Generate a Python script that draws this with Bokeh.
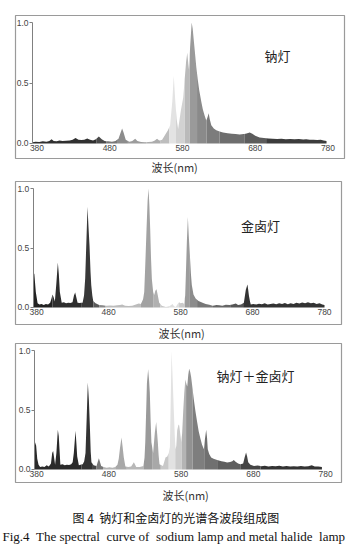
import numpy as np
from bokeh.plotting import figure
from bokeh.models import Range1d, FixedTicker, PrintfTickFormatter, Label, Title
from bokeh.layouts import column
from bokeh.embed import file_html
from bokeh.resources import INLINE

# ---------------- data ----------------
# Panel 1: sodium lamp
na_wl = [374, 378, 383, 388, 393, 397, 400, 403, 407, 411, 415, 420, 425, 429, 433, 437,
         441, 445, 449, 453, 457, 461, 465, 469, 473, 478, 483, 488, 492, 495, 497, 499,
         502, 507, 511, 515, 518, 523, 528, 533, 538, 542, 545, 548, 552, 556, 560, 563,
         566, 568, 570, 572, 574, 576, 578, 581, 583, 585, 586.6, 588, 589, 590.5, 592.6,
         594, 596.7, 599, 601, 603, 606, 608, 610.5, 612.7, 614.5, 616, 617.5, 619.6, 623,
         626.5, 631, 635.7, 642, 648, 653, 658.6, 664, 668, 672.4, 676, 680, 686, 692, 698,
         704, 710, 716, 722, 728, 734, 740, 746, 750, 755, 760, 765, 770, 774, 778]
na_val = [0.01, 0.015, 0.012, 0.018, 0.015, 0.02, 0.036, 0.02, 0.018, 0.025, 0.02, 0.022,
          0.025, 0.03, 0.045, 0.03, 0.028, 0.032, 0.042, 0.03, 0.025, 0.035, 0.058, 0.035,
          0.02, 0.018, 0.015, 0.02, 0.04, 0.09, 0.124, 0.09, 0.03, 0.015, 0.02, 0.04, 0.02,
          0.012, 0.01, 0.012, 0.015, 0.025, 0.04, 0.025, 0.03, 0.07, 0.11, 0.15, 0.35, 0.56,
          0.36, 0.2, 0.12, 0.2, 0.28, 0.38, 0.53, 0.68, 0.75, 0.66, 0.61, 0.8, 1.0, 0.95,
          0.78, 0.63, 0.53, 0.44, 0.34, 0.28, 0.23, 0.19, 0.22, 0.25, 0.2, 0.15, 0.125, 0.11,
          0.1, 0.09, 0.085, 0.08, 0.078, 0.075, 0.078, 0.082, 0.09, 0.08, 0.065, 0.05, 0.045,
          0.042, 0.04, 0.038, 0.04, 0.036, 0.038, 0.035, 0.037, 0.033, 0.035, 0.03, 0.032,
          0.028, 0.03, 0.025, 0.02]
na_edges = [374, 462, 475, 490, 505, 530, 550, 562, 571, 583, 590, 600, 613, 631, 665, 695, 778]
na_grays = ["#303030", "#4a4a4a", "#777777", "#8c8c8c", "#9c9c9c", "#acacac", "#bdbdbd",
            "#e3e3e3", "#d2d2d2", "#bababa", "#9a9a9a", "#8a8a8a", "#7c7c7c", "#6e6e6e",
            "#5c5c5c", "#3c3c3c"]

# Panel 2: metal halide lamp
mh_wl = [375.5, 377, 379, 381.5, 384, 387, 390, 393, 396, 399, 401, 402, 403.5, 405.5,
         407.5, 409.6, 411, 412.4, 415, 418, 421, 424, 427, 430, 432, 433.7, 435.5, 437,
         440, 444, 446, 447.6, 449.5, 450.8, 452, 453.6, 455, 456, 457.5, 458.8, 462, 467,
         472, 477, 482, 487, 492, 496, 499, 503, 508, 513, 518, 522, 525, 528, 529.6, 531,
         532.8, 534.3, 535.6, 536.8, 537.9, 539, 540.2, 542, 543.5, 545, 546.7, 548.5,
         550.4, 554, 559.6, 564, 567, 568.9, 571, 573.5, 576, 578, 580, 583, 585, 586.5,
         587.4, 588.8, 590.2, 591.5, 593, 594.5, 595.7, 598, 601, 605, 610.6, 615, 620,
         624.6, 630, 634, 638, 643, 648, 652, 656.8, 660, 664, 668, 669.5, 670.7, 673, 674,
         675, 676.5, 677.6, 681, 685, 689, 693, 697, 701, 705, 709, 713, 717, 721, 725,
         729, 733, 737, 741, 745, 749, 753, 757, 761, 765, 769, 773, 777, 780]
mh_val = [0.30, 0.28, 0.13, 0.035, 0.025, 0.03, 0.02, 0.03, 0.025, 0.04, 0.08, 0.11, 0.09,
          0.05, 0.2, 0.378, 0.28, 0.13, 0.04, 0.045, 0.035, 0.04, 0.038, 0.045, 0.1, 0.126,
          0.08, 0.04, 0.038, 0.04, 0.1, 0.245, 0.6, 0.846, 0.7, 0.52, 0.3, 0.19, 0.1, 0.053,
          0.035, 0.02, 0.018, 0.015, 0.017, 0.015, 0.018, 0.02, 0.025, 0.015, 0.012, 0.015,
          0.025, 0.034, 0.03, 0.07, 0.13, 0.35, 0.66, 0.9, 1.0, 0.85, 0.66, 0.42, 0.24, 0.13,
          0.104, 0.14, 0.154, 0.1, 0.04, 0.015, 0.005, 0.008, 0.02, 0.03, 0.01, 0.005, 0.03,
          0.045, 0.035, 0.04, 0.03, 0.1, 0.27, 0.55, 0.76, 0.6, 0.44, 0.28, 0.19, 0.11, 0.075,
          0.055, 0.04, 0.03, 0.022, 0.015, 0.02, 0.018, 0.015, 0.022, 0.02, 0.025, 0.034,
          0.02, 0.025, 0.04, 0.1, 0.15, 0.193, 0.15, 0.1, 0.05, 0.025, 0.03, 0.025, 0.032,
          0.028, 0.035, 0.025, 0.03, 0.033, 0.028, 0.035, 0.03, 0.038, 0.028, 0.035, 0.03,
          0.04, 0.033, 0.042, 0.035, 0.045, 0.036, 0.04, 0.03, 0.035, 0.025, 0.02]
mh_edges = [375.5, 402, 442, 459, 467, 476, 525, 542, 552, 564, 578, 586, 593, 603, 625,
            650, 667, 780]
mh_grays = ["#222222", "#2e2e2e", "#383838", "#5a5a5a", "#888888", "#bcbcbc", "#a2a2a2",
            "#b0b0b0", "#c8c8c8", "#dedede", "#cacaca", "#9c9c9c", "#8c8c8c", "#777777",
            "#666666", "#555555", "#333333"]

# Panel 3: sodium + metal halide
mix_wl = [377.2, 378, 379.5, 381, 382.8, 385, 388, 391, 394, 397, 400, 401.7, 403, 404.3,
          405.7, 407.5, 409.5, 410.8, 411.8, 413, 416, 419, 422, 425, 428, 430, 431.6, 434,
          435.2, 436.3, 438.6, 441, 444, 446, 447.8, 449.5, 451, 452.5, 453.8, 455, 456, 459,
          463, 466.3, 469.5, 473, 477, 481, 485, 489, 492, 493.8, 495.5, 497.6, 499, 500.8,
          503, 507, 511, 513, 514.7, 516.5, 518, 523, 528, 529.5, 530.5, 532, 532.8, 534.5,
          535.8, 536.8, 538, 539, 541.4, 543.7, 545.6, 547, 547.9, 549, 550.2, 553, 555, 557,
          558.5, 561, 563, 564.6, 565.8, 566.9, 568.2, 570, 571.4, 572.4, 573.5, 574.7, 576.5,
          577.5, 579, 580.3, 581.5, 583, 584.5, 586, 587.5, 588.6, 590, 591.3, 592.8, 594,
          596, 597.7, 600, 602.3, 604.5, 606.9, 609, 611.6, 613, 614.8, 616, 617, 619, 621.7,
          625, 630, 636, 640, 643.8, 648, 651, 653, 655.5, 659, 662.5, 666, 668, 670, 671.5,
          673, 676, 681, 686, 691, 696, 701, 706, 711, 716, 721, 726, 731, 736, 741, 746,
          751, 756, 761, 765, 770, 775]
mix_val = [0.05, 0.23, 0.2, 0.09, 0.04, 0.02, 0.025, 0.02, 0.035, 0.025, 0.05, 0.14, 0.155,
           0.1, 0.04, 0.14, 0.335, 0.28, 0.17, 0.04, 0.045, 0.035, 0.04, 0.038, 0.045, 0.06,
           0.14, 0.326, 0.22, 0.11, 0.035, 0.04, 0.045, 0.07, 0.14, 0.45, 0.734, 0.58, 0.37,
           0.15, 0.06, 0.035, 0.03, 0.095, 0.03, 0.02, 0.015, 0.018, 0.015, 0.02, 0.04, 0.09,
           0.18, 0.27, 0.2, 0.1, 0.025, 0.02, 0.025, 0.045, 0.06, 0.04, 0.02, 0.02, 0.03, 0.1,
           0.23, 0.55, 0.73, 0.846, 0.75, 0.65, 0.4, 0.23, 0.14, 0.31, 0.40, 0.3, 0.23, 0.12,
           0.045, 0.035, 0.03, 0.07, 0.1, 0.11, 0.14, 0.19, 0.6, 1.0, 0.8, 0.5, 0.28, 0.17,
           0.2, 0.33, 0.38, 0.37, 0.3, 0.23, 0.3, 0.49, 0.65, 0.76, 0.72, 0.7, 0.8, 0.85, 0.82,
           0.78, 0.68, 0.59, 0.49, 0.4, 0.32, 0.26, 0.21, 0.17, 0.25, 0.335, 0.27, 0.17, 0.13,
           0.1, 0.09, 0.08, 0.07, 0.065, 0.058, 0.062, 0.07, 0.08, 0.065, 0.05, 0.044, 0.05,
           0.1, 0.143, 0.11, 0.06, 0.04, 0.03, 0.033, 0.028, 0.032, 0.026, 0.03, 0.027, 0.031,
           0.025, 0.029, 0.024, 0.028, 0.025, 0.03, 0.024, 0.027, 0.035, 0.025, 0.024, 0.02]
mix_edges = [377.2, 442, 458, 463, 472, 490, 505, 528, 540, 552, 563, 572, 581, 587, 596,
             613, 630, 662, 690, 775]
mix_grays = ["#2a2a2a", "#333333", "#444444", "#777777", "#b5b5b5", "#a8a8a8", "#b8b8b8",
             "#9a9a9a", "#a8a8a8", "#c8c8c8", "#e2e2e2", "#cccccc", "#b4b4b4", "#929292",
             "#7e7e7e", "#707070", "#5e5e5e", "#444444", "#333333"]

x_ticks = [380, 480, 580, 680, 780]
y_ticks = [0.0, 0.5, 1.0]
x_label = "波长(nm)"
names = ["钠灯", "金卤灯", "钠灯＋金卤灯"]
caption_cn = "图 4 \u00a0钠灯和金卤灯的光谱各波段组成图"
caption_en = "Fig.4 \u00a0The spectral \u00a0curve of \u00a0sodium lamp and metal halide \u00a0lamp"

CJK = "Noto Sans CJK SC"


def make_panel(wl, val, edges, grays, name, name_xy, xr, yr, axis_x,
               fw, fh, bl, br, bt, bb, xlabel_off, xlabel_standoff):
    p = figure(frame_width=fw, frame_height=fh, x_range=Range1d(*xr), y_range=Range1d(*yr),
               output_backend="svg", toolbar_location=None, title=None,
               min_border_left=bl, min_border_right=br, min_border_top=bt,
               min_border_bottom=bb)
    p.background_fill_color = "white"
    p.border_fill_color = "white"
    p.outline_line_color = "#9a9a9a"
    p.outline_line_width = 1.2
    p.grid.visible = False

    wl_a = np.asarray(wl, float)
    val_a = np.asarray(val, float)
    for a, b, c in zip(edges[:-1], edges[1:], grays):
        inner = wl_a[(wl_a > a) & (wl_a < b)]
        xs = np.concatenate([[a], inner, [b]])
        ys = np.interp(xs, wl_a, val_a)
        p.varea(x=xs, y1=0, y2=ys, fill_color=c)

    xa = p.xaxis[0]
    xa.fixed_location = 0
    xa.ticker = FixedTicker(ticks=x_ticks)
    xa.axis_line_color = None
    xa.major_tick_line_color = None
    xa.major_tick_in = 0
    xa.major_tick_out = 0
    xa.minor_tick_line_color = None
    xa.major_label_standoff = 2
    xa.major_label_text_font = "Liberation Sans"
    xa.major_label_text_font_size = "8.5px"
    xa.major_label_text_color = "#444444"

    ya = p.yaxis[0]
    ya.fixed_location = axis_x
    ya.bounds = (0, 1)
    ya.ticker = FixedTicker(ticks=y_ticks)
    ya.formatter = PrintfTickFormatter(format="%.1f")
    ya.axis_line_color = "#808080"
    ya.major_tick_line_color = "#808080"
    ya.major_tick_in = 0
    ya.major_tick_out = 3
    ya.minor_tick_line_color = None
    ya.major_label_standoff = 1
    ya.major_label_text_font = "Liberation Sans"
    ya.major_label_text_font_size = "8.5px"
    ya.major_label_text_color = "#444444"

    p.add_layout(Label(x=name_xy[0], y=name_xy[1], text=name, text_font=CJK,
                       text_font_size="13px", text_color="#222222",
                       text_align="center", text_baseline="middle"))
    p.add_layout(Title(text=x_label, text_font=CJK, text_font_size="11px",
                       text_color="#333333", text_font_style="normal", align="left",
                       vertical_align="top", offset=xlabel_off, standoff=xlabel_standoff),
                 "below")
    return p


p1 = make_panel(na_wl, na_val, na_edges, na_grays, names[0], (710.6, 0.727),
                (350.45, 802.7), (-0.124, 1.058), 373.8,
                329, 143, 13, 10, 15, 19, 136, 0)
p2 = make_panel(mh_wl, mh_val, mh_edges, mh_grays, names[1], (691, 0.69),
                (350.8, 803.6), (-0.143, 1.059), 375.4,
                326, 143, 13, 10, 4, 18, 143, 0)
p3 = make_panel(mix_wl, mix_val, mix_edges, mix_grays, names[2], (683, 0.79),
                (350.9, 802.1), (-0.11, 1.063), 377.2,
                326, 139, 15, 10, 1, 65, 147, 8)
p3.add_layout(Title(text=caption_cn, text_font=CJK, text_font_size="12px",
                    text_color="#111111", text_font_style="normal", align="left",
                    vertical_align="top", offset=57, standoff=0), "below")
p3.add_layout(Title(text=caption_en, text_font="Liberation Serif", text_font_size="13px",
                    text_color="#111111", text_font_style="normal", align="left",
                    vertical_align="top", offset=-13, standoff=3), "below")

layout = column(p1, p2, p3)
open("out.html", "w").write(file_html(layout, INLINE))
